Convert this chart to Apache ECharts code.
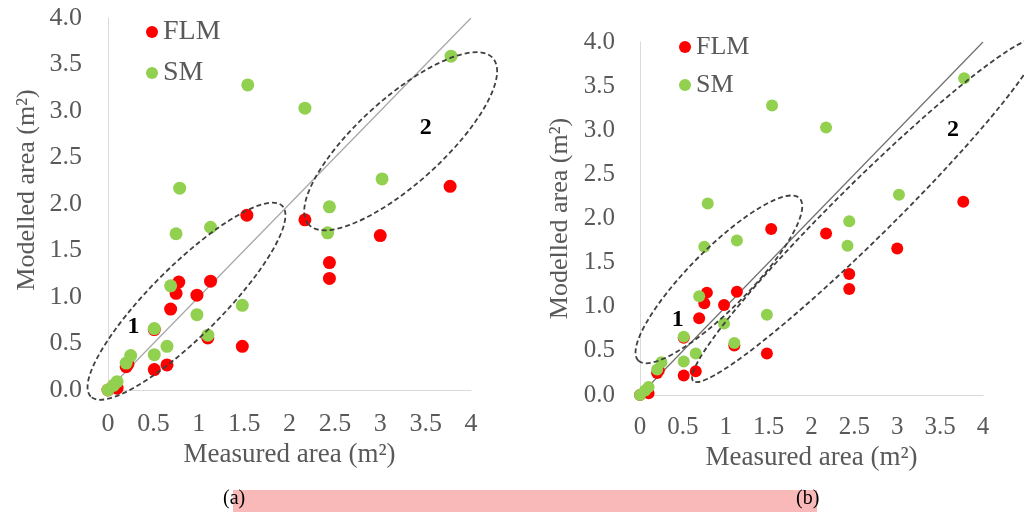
<!DOCTYPE html>
<html>
<head>
<meta charset="utf-8">
<script src="https://cdn.jsdelivr.net/npm/echarts@6/dist/echarts.min.js"></script>
<style>
  html, body { margin: 0; padding: 0; background: #fff; }
  #main { width: 1024px; height: 512px; }
</style>
</head>
<body>
<div id="main"></div>
<script>
// measured / modelled area (m²)
var flmMeasured = [0, 0.06, 0.1, 0.2, 0.22, 0.51, 0.51, 0.65, 0.69, 0.75, 0.78, 0.98, 1.1, 1.13, 1.48, 1.53, 2.17, 2.44, 2.44, 3.0, 3.77];
var flmModelled = [0, 0.04, 0.02, 0.25, 0.28, 0.22, 0.65, 0.27, 0.87, 1.04, 1.16, 1.02, 0.56, 1.17, 0.47, 1.88, 1.83, 1.2, 1.37, 1.66, 2.19];
var smMeasured = [0, 0.06, 0.1, 0.2, 0.25, 0.51, 0.51, 0.65, 0.69, 0.75, 0.79, 0.98, 1.1, 1.13, 1.48, 1.54, 2.17, 2.42, 2.44, 3.02, 3.78];
var smModelled = [0, 0.05, 0.09, 0.29, 0.37, 0.66, 0.38, 0.47, 1.12, 1.68, 2.17, 0.81, 0.59, 1.75, 0.91, 3.28, 3.03, 1.69, 1.97, 2.27, 3.59];
var oneToOne = [[0, 0], [4, 4]];

// dashed groups: [x1, y1, x2, y2, halfWidth] (axis ends + half width, data units)
var groupsA = [[-0.19, -0.07, 1.92, 1.98, 0.39], [2.21, 1.78, 4.24, 3.57, 0.47]];
var groupsB = [[-0.02, 0.39, 1.86, 2.23, 0.35], [0.62, 0.16, 4.65, 4.03, 0.33]];
var groupNames = ['1', '2'];
var groupLabelsA = [[0.28, 0.68], [3.5, 2.82]];
var groupLabelsB = [[0.44, 0.85], [3.65, 3.01]];

function zip(xs, ys) {
	var res = [];
	for (var i = 0; i < xs.length; i++) res.push([xs[i], ys[i]]);
	return res;
}

var serif = 'Liberation Serif';
var grey = '#595959';

// dashed ellipse round a group of points
function renderEllipse(params, api) {
	var p1 = api.coord([api.value(0), api.value(1)]);
	var p2 = api.coord([api.value(2), api.value(3)]);
	var ry = api.size([api.value(4), 0])[0];
	var dx = p2[0] - p1[0], dy = p2[1] - p1[1];
	return {
		type: 'ellipse',
		x: (p1[0] + p2[0]) / 2,
		y: (p1[1] + p2[1]) / 2,
		rotation: -Math.atan2(dy, dx),
		shape: { cx: 0, cy: 0, rx: Math.sqrt(dx * dx + dy * dy) / 2, ry: ry },
		style: { fill: 'none', stroke: '#404040', lineWidth: 1.8, lineDash: [5, 3] }
	};
}

function renderGroupLabel(params, api) {
	var p = api.coord([api.value(0), api.value(1)]);
	return {
		type: 'text',
		x: p[0], y: p[1],
		style: {
			text: groupNames[params.dataIndex],
			font: 'bold 24px ' + serif,
			fill: '#000',
			align: 'center',
			verticalAlign: 'middle'
		}
	};
}

function xAxisFor(idx, fs, margin, gap) {
	return {
		gridIndex: idx, type: 'value', min: 0, max: 4, interval: 0.5,
		axisLine: { show: true, onZero: false, lineStyle: { color: '#d9d9d9', width: 1 } },
		axisTick: { show: false },
		splitLine: { show: false },
		axisLabel: { color: grey, fontSize: fs, fontFamily: serif, margin: margin },
		name: 'Measured area (m²)', nameLocation: 'middle', nameGap: gap,
		nameTextStyle: { color: grey, fontSize: 27, fontFamily: serif }
	};
}

function yAxisFor(idx, fs, margin, gap, pad) {
	return {
		gridIndex: idx, type: 'value', min: 0, max: 4, interval: 0.5,
		axisLine: { show: true, onZero: false, lineStyle: { color: '#d9d9d9', width: 1 } },
		axisTick: { show: false },
		splitLine: { show: false },
		axisLabel: {
			color: grey, fontSize: fs, fontFamily: serif, margin: margin,
			formatter: function (v) { return v.toFixed(1); }
		},
		name: 'Modelled area (m²)', nameLocation: 'middle', nameGap: gap,
		nameTextStyle: { color: grey, fontSize: 26, fontFamily: serif, padding: pad }
	};
}

function pointSeries(name, idx, data, color, size) {
	return {
		name: name, type: 'scatter', xAxisIndex: idx, yAxisIndex: idx,
		symbol: 'circle', symbolSize: size,
		itemStyle: { color: color, opacity: 1 },
		data: data, z: 3
	};
}

var chart = echarts.init(document.getElementById('main'), null, { renderer: 'canvas' });
chart.setOption({
	animation: false,
	backgroundColor: '#fff',
	grid: [
		{ left: 108, top: 18, width: 363, height: 372 },
		{ left: 640, top: 42, width: 343, height: 353 }
	],
	legend: [
		{
			data: ['FLM', 'SM'], orient: 'vertical', left: 141, top: 13,
			itemWidth: 12, itemHeight: 12, itemGap: 13, icon: 'circle',
			textStyle: { color: grey, fontSize: 28, fontFamily: serif, padding: [0, 0, 0, 0] }
		},
		{
			data: ['FLM', 'SM'], orient: 'vertical', left: 674, top: 29,
			itemWidth: 12, itemHeight: 12, itemGap: 12, icon: 'circle',
			textStyle: { color: grey, fontSize: 26, fontFamily: serif, padding: [0, 0, 0, 0] }
		}
	],
	xAxis: [xAxisFor(0, 26, 21, 45), xAxisFor(1, 25, 20, 43)],
	yAxis: [yAxisFor(0, 26, 26, 68, [0, 0, 0, 28]), yAxisFor(1, 25, 25, 67, 0)],
	graphic: [
		{ type: 'rect', left: 233, top: 490, shape: { width: 584, height: 22 }, style: { fill: '#f8b9b8' } },
		{ type: 'text', left: 223, top: 489, style: { text: '(a)', font: '20px ' + serif, fill: '#000' } },
		{ type: 'text', left: 796, top: 489, style: { text: '(b)', font: '20px ' + serif, fill: '#000' } }
	],
	series: [
		{
			type: 'line', xAxisIndex: 0, yAxisIndex: 0, data: oneToOne, symbol: 'none', silent: true,
			lineStyle: { color: '#a6a6a6', width: 1.2 }, z: 1
		},
		pointSeries('FLM', 0, zip(flmMeasured, flmModelled), '#ff0000', 13),
		pointSeries('SM', 0, zip(smMeasured, smModelled), '#92d050', 13),
		{ type: 'custom', xAxisIndex: 0, yAxisIndex: 0, renderItem: renderEllipse, data: groupsA, silent: true, z: 4 },
		{ type: 'custom', xAxisIndex: 0, yAxisIndex: 0, renderItem: renderGroupLabel, data: groupLabelsA, silent: true, z: 4 },

		{
			type: 'line', xAxisIndex: 1, yAxisIndex: 1, data: oneToOne, symbol: 'none', silent: true,
			lineStyle: { color: '#6f6f6f', width: 1.2 }, z: 1
		},
		pointSeries('FLM', 1, zip(flmMeasured, flmModelled), '#ff0000', 12),
		pointSeries('SM', 1, zip(smMeasured, smModelled), '#92d050', 12),
		{ type: 'custom', xAxisIndex: 1, yAxisIndex: 1, renderItem: renderEllipse, data: groupsB, silent: true, z: 4 },
		{ type: 'custom', xAxisIndex: 1, yAxisIndex: 1, renderItem: renderGroupLabel, data: groupLabelsB, silent: true, z: 4 }
	]
});
</script>
</body>
</html>
